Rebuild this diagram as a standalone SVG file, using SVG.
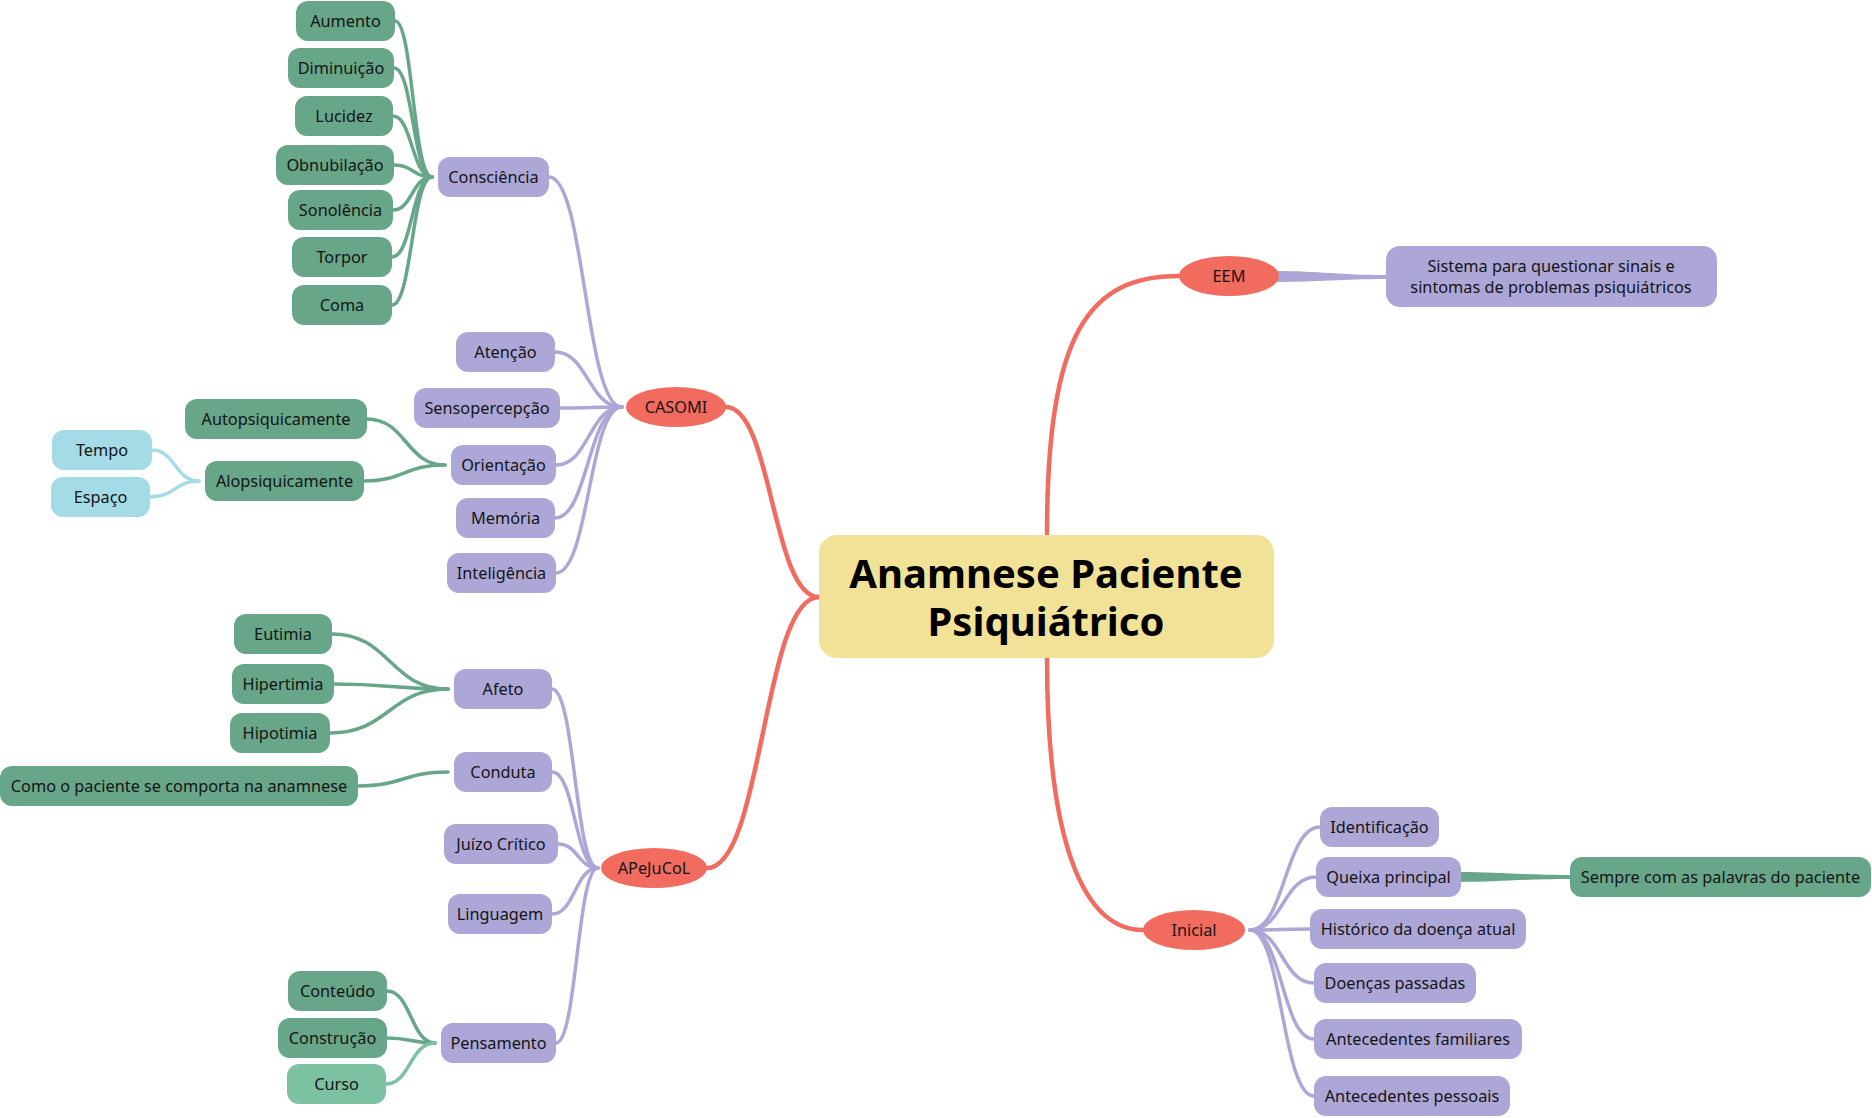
<svg xmlns="http://www.w3.org/2000/svg" width="1872" height="1118" viewBox="0 0 1872 1118">
<style>
.t{font-family:"Noto Sans","Open Sans","Liberation Sans",sans-serif;font-size:16.3px;fill:#141414;text-anchor:middle;dominant-baseline:central}
.title{font-family:"Noto Sans","Open Sans","Liberation Sans",sans-serif;font-size:40px;font-weight:bold;fill:#000;text-anchor:middle;dominant-baseline:central}
.p{fill:#ADA7D8}.g{fill:#67A689}.b{fill:#A3DCE6}.cg{fill:#7BC1A2}.r{fill:#F16B5E}.y{fill:#F2E297}
.c{fill:none;stroke-linecap:round}
.cr{stroke:#F16B5E;stroke-width:4.5}
.cp{stroke:#ADA7D8;stroke-width:3.5}
.cgl{stroke:#67A689;stroke-width:3.5}
.cb{stroke:#A3DCE6;stroke-width:3.5}
.ccg{stroke:#7BC1A2;stroke-width:3.5}
</style>
<rect width="1872" height="1118" fill="#FFFFFF"/>
<g id="connectors">
<path class="c cr" d="M726 407 C772 407,772 597,819 597"/>
<path class="c cr" d="M707 868 C763 868,763 597,819 597"/>
<path class="c cr" d="M1047 535 C1047 330,1090 276,1179 276"/>
<path class="c cr" d="M1047 658 C1047 860,1090 930,1143 930"/>
<path fill="#ADA7D8" d="M1276 271 C1320 271,1340 275,1386 275 L1386 279 C1340 279,1320 282,1276 282 Z"/>
<path fill="#67A689" d="M1458 872 C1500 872,1520 875,1570 875 L1570 879 C1520 879,1500 882,1458 882 Z"/>
<path class="c cgl" d="M395 21 C413 21,413 177,432 177"/>
<path class="c cgl" d="M394 68 C413 68,413 177,432 177"/>
<path class="c cgl" d="M393 116 C412 116,412 177,432 177"/>
<path class="c cgl" d="M394 165 C413 165,413 177,432 177"/>
<path class="c cgl" d="M393 210 C412 210,412 177,432 177"/>
<path class="c cgl" d="M392 257 C412 257,412 177,432 177"/>
<path class="c cgl" d="M392 305 C412 305,412 177,432 177"/>
<path class="c cp" d="M549 177 C585 177,585 407,622 407"/>
<path class="c cp" d="M555 352 C588 352,588 407,622 407"/>
<path class="c cp" d="M560 408 C591 408,591 407,622 407"/>
<path class="c cp" d="M556 465 C589 465,589 407,622 407"/>
<path class="c cp" d="M555 518 C588 518,588 407,622 407"/>
<path class="c cp" d="M556 573 C589 573,589 407,622 407"/>
<path class="c cgl" d="M367 419 C406 419,406 465,445 465"/>
<path class="c cgl" d="M364 481 C404 481,404 465,445 465"/>
<path class="c cb" d="M152 450 C175 450,175 481,199 481"/>
<path class="c cb" d="M150 497 C175 497,175 481,199 481"/>
<path class="c cp" d="M552 689 C575 689,575 868,598 868"/>
<path class="c cp" d="M552 772 C575 772,575 868,598 868"/>
<path class="c cp" d="M558 844 C578 844,578 868,598 868"/>
<path class="c cp" d="M552 914 C575 914,575 868,598 868"/>
<path class="c cp" d="M556 1043 C577 1043,577 868,598 868"/>
<path class="c cgl" d="M332 634 C390 634,390 689,448 689"/>
<path class="c cgl" d="M334 684 C391 684,391 689,448 689"/>
<path class="c cgl" d="M330 733 C389 733,389 689,448 689"/>
<path class="c cgl" d="M358 786 C403 786,403 772,448 772"/>
<path class="c cgl" d="M387 991 C411 991,411 1043,435 1043"/>
<path class="c cgl" d="M387 1038 C411 1038,411 1043,435 1043"/>
<path class="c ccg" d="M386 1084 C410 1084,410 1043,435 1043"/>
<path class="c cp" d="M1250 930 C1285 930,1285 827,1320 827"/>
<path class="c cp" d="M1250 930 C1283 930,1283 877,1316 877"/>
<path class="c cp" d="M1250 930 C1280 930,1280 929,1310 929"/>
<path class="c cp" d="M1250 930 C1282 930,1282 983,1314 983"/>
<path class="c cp" d="M1250 930 C1282 930,1282 1039,1314 1039"/>
<path class="c cp" d="M1250 930 C1282 930,1282 1096,1314 1096"/>
</g>
<g id="central"><rect class="y" x="819" y="535" width="455" height="123" rx="18"/><text class="title"><tspan x="1046" y="572">Anamnese Paciente</tspan><tspan x="1046" y="620">Psiquiátrico</tspan></text></g>
<g id="eem"><ellipse class="r" cx="1229" cy="276" rx="50" ry="20"/><text class="t" x="1229" y="276">EEM</text></g>
<g id="casomi"><ellipse class="r" cx="676" cy="407" rx="50" ry="20"/><text class="t" x="676" y="407">CASOMI</text></g>
<g id="apejucol"><ellipse class="r" cx="654" cy="868" rx="53" ry="20"/><text class="t" x="654" y="868">APeJuCoL</text></g>
<g id="inicial"><ellipse class="r" cx="1194" cy="930" rx="51" ry="20"/><text class="t" x="1194" y="930">Inicial</text></g>
<g id="sistema"><rect class="p" x="1386" y="246" width="331" height="61" rx="14"/><text class="t"><tspan x="1551" y="266">Sistema para questionar sinais e</tspan><tspan x="1551" y="287">sintomas de problemas psiquiátricos</tspan></text></g>
<g id="aumento"><rect class="g" x="296" y="1" width="99" height="40" rx="12"/><text class="t" x="345.5" y="21">Aumento</text></g>
<g id="diminuicao"><rect class="g" x="288" y="48" width="106" height="40" rx="12"/><text class="t" x="341" y="68">Diminuição</text></g>
<g id="lucidez"><rect class="g" x="295" y="96" width="98" height="40" rx="12"/><text class="t" x="344" y="116">Lucidez</text></g>
<g id="obnubilacao"><rect class="g" x="276" y="145" width="118" height="40" rx="12"/><text class="t" x="335" y="165">Obnubilação</text></g>
<g id="sonolencia"><rect class="g" x="288" y="190" width="105" height="40" rx="12"/><text class="t" x="340.5" y="210">Sonolência</text></g>
<g id="torpor"><rect class="g" x="292" y="237" width="100" height="40" rx="12"/><text class="t" x="342" y="257">Torpor</text></g>
<g id="coma"><rect class="g" x="292" y="285" width="100" height="40" rx="12"/><text class="t" x="342" y="305">Coma</text></g>
<g id="consciencia"><rect class="p" x="438" y="157" width="111" height="40" rx="12"/><text class="t" x="493.5" y="177">Consciência</text></g>
<g id="atencao"><rect class="p" x="456" y="332" width="99" height="40" rx="12"/><text class="t" x="505.5" y="352">Atenção</text></g>
<g id="sensopercepcao"><rect class="p" x="414" y="388" width="146" height="40" rx="12"/><text class="t" x="487" y="408">Sensopercepção</text></g>
<g id="orientacao"><rect class="p" x="451" y="445" width="105" height="40" rx="12"/><text class="t" x="503.5" y="465">Orientação</text></g>
<g id="memoria"><rect class="p" x="456" y="498" width="99" height="40" rx="12"/><text class="t" x="505.5" y="518">Memória</text></g>
<g id="inteligencia"><rect class="p" x="447" y="553" width="109" height="40" rx="12"/><text class="t" x="501.5" y="573">Inteligência</text></g>
<g id="autopsiquicamente"><rect class="g" x="185" y="399" width="182" height="40" rx="12"/><text class="t" x="276" y="419">Autopsiquicamente</text></g>
<g id="alopsiquicamente"><rect class="g" x="205" y="461" width="159" height="40" rx="12"/><text class="t" x="284.5" y="481">Alopsiquicamente</text></g>
<g id="tempo"><rect class="b" x="52" y="430" width="100" height="40" rx="12"/><text class="t" x="102" y="450">Tempo</text></g>
<g id="espaco"><rect class="b" x="51" y="477" width="99" height="40" rx="12"/><text class="t" x="100.5" y="497">Espaço</text></g>
<g id="afeto"><rect class="p" x="454" y="669" width="98" height="40" rx="12"/><text class="t" x="503" y="689">Afeto</text></g>
<g id="conduta"><rect class="p" x="454" y="752" width="98" height="40" rx="12"/><text class="t" x="503" y="772">Conduta</text></g>
<g id="juizo"><rect class="p" x="444" y="824" width="114" height="40" rx="12"/><text class="t" x="501" y="844">Juízo Crítico</text></g>
<g id="linguagem"><rect class="p" x="448" y="894" width="104" height="40" rx="12"/><text class="t" x="500" y="914">Linguagem</text></g>
<g id="pensamento"><rect class="p" x="441" y="1023" width="115" height="40" rx="12"/><text class="t" x="498.5" y="1043">Pensamento</text></g>
<g id="eutimia"><rect class="g" x="234" y="614" width="98" height="40" rx="12"/><text class="t" x="283" y="634">Eutimia</text></g>
<g id="hipertimia"><rect class="g" x="232" y="664" width="102" height="40" rx="12"/><text class="t" x="283" y="684">Hipertimia</text></g>
<g id="hipotimia"><rect class="g" x="230" y="713" width="100" height="40" rx="12"/><text class="t" x="280" y="733">Hipotimia</text></g>
<g id="como"><rect class="g" x="0" y="766" width="358" height="40" rx="12"/><text class="t" x="179" y="786">Como o paciente se comporta na anamnese</text></g>
<g id="conteudo"><rect class="g" x="288" y="971" width="99" height="40" rx="12"/><text class="t" x="337.5" y="991">Conteúdo</text></g>
<g id="construcao"><rect class="g" x="278" y="1018" width="109" height="40" rx="12"/><text class="t" x="332.5" y="1038">Construção</text></g>
<g id="curso"><rect class="cg" x="287" y="1064" width="99" height="40" rx="12"/><text class="t" x="336.5" y="1084">Curso</text></g>
<g id="identificacao"><rect class="p" x="1320" y="807" width="119" height="40" rx="12"/><text class="t" x="1379.5" y="827">Identificação</text></g>
<g id="queixa"><rect class="p" x="1316" y="857" width="145" height="40" rx="12"/><text class="t" x="1388.5" y="877">Queixa principal</text></g>
<g id="historico"><rect class="p" x="1310" y="909" width="216" height="40" rx="12"/><text class="t" x="1418" y="929">Histórico da doença atual</text></g>
<g id="doencas"><rect class="p" x="1314" y="963" width="162" height="40" rx="12"/><text class="t" x="1395" y="983">Doenças passadas</text></g>
<g id="familiares"><rect class="p" x="1314" y="1019" width="208" height="40" rx="12"/><text class="t" x="1418" y="1039">Antecedentes familiares</text></g>
<g id="pessoais"><rect class="p" x="1314" y="1076" width="196" height="40" rx="12"/><text class="t" x="1412" y="1096">Antecedentes pessoais</text></g>
<g id="sempre"><rect class="g" x="1570" y="857" width="301" height="40" rx="12"/><text class="t" x="1720.5" y="877">Sempre com as palavras do paciente</text></g>
</svg>
